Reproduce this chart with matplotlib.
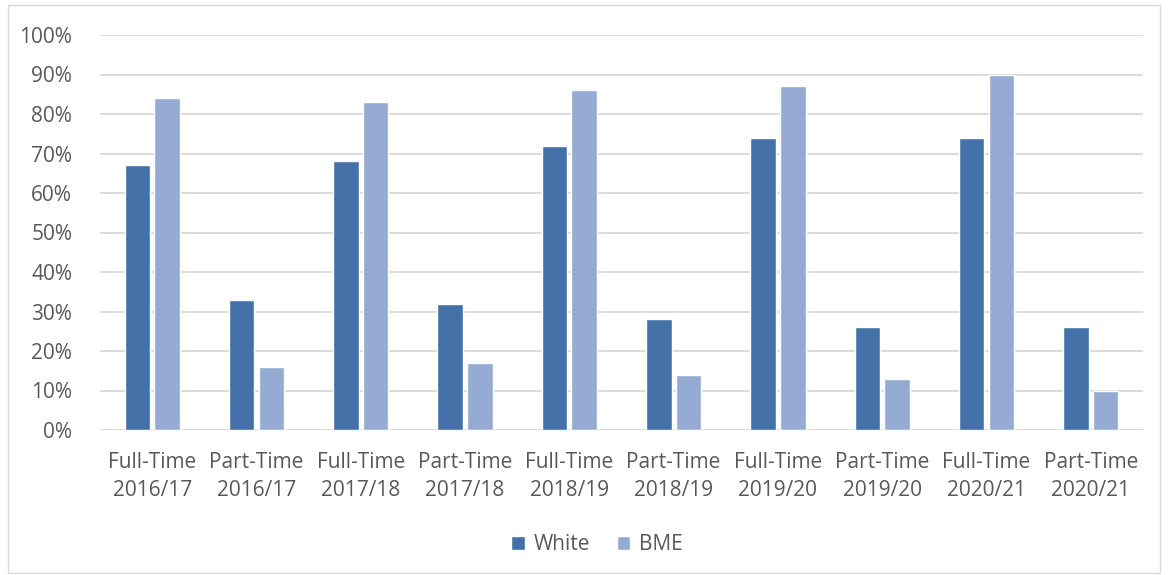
import matplotlib.pyplot as plt
import numpy as np
from matplotlib.patches import Rectangle

plt.rcParams['font.family'] = ['Open Sans', 'DejaVu Sans']

categories = ['Full-Time\n2016/17', 'Part-Time\n2016/17', 'Full-Time\n2017/18', 'Part-Time\n2017/18',
              'Full-Time\n2018/19', 'Part-Time\n2018/19', 'Full-Time\n2019/20', 'Part-Time\n2019/20',
              'Full-Time\n2020/21', 'Part-Time\n2020/21']
white = [67, 33, 68, 32, 72, 28, 74, 26, 74, 26]
bme = [84, 16, 83, 17, 86, 14, 87, 13, 90, 10]

text_col = '#595959'
fig = plt.figure(figsize=(11.68, 5.75), dpi=100)
ax = fig.add_axes([100 / 1168, 1 - 430 / 575, 1043 / 1168, 395 / 575])

x = np.arange(len(categories))
w = 0.245
ax.bar(x - w / 2 - 0.02, white, w, color='#4472A8', edgecolor='white', linewidth=1, label='White', zorder=3)
ax.bar(x + w / 2 + 0.02, bme, w, color='#95ABD3', edgecolor='white', linewidth=1, label='BME', zorder=3)

ax.set_xlim(-0.5, len(categories) - 0.5)
ax.set_ylim(0, 100)
ax.set_yticks(range(0, 101, 10))
ax.set_yticklabels([f'{v}%' for v in range(0, 101, 10)])
ax.set_xticks(x)
ax.set_xticklabels(categories, linespacing=1.45)
ax.grid(axis='y', color='#D9D9D9', linewidth=1.3, zorder=0)
for s in ax.spines.values():
    s.set_visible(False)
ax.tick_params(length=0, colors=text_col, labelsize=15)
ax.tick_params(axis='x', pad=16)
ax.tick_params(axis='y', pad=20)

fig.legend(loc='center', bbox_to_anchor=(597 / 1168, 1 - 545 / 575), ncol=2, frameon=False,
           fontsize=15, labelcolor=text_col, handlelength=0.65, handleheight=0.65,
           handletextpad=0.4, columnspacing=1.3)

fig.patches.append(Rectangle((8 / 1168, 2 / 575), 1152 / 1168, 568 / 575, transform=fig.transFigure,
                             fill=False, edgecolor='#D9D9D9', linewidth=1))

fig.savefig('out.png', dpi=100)
